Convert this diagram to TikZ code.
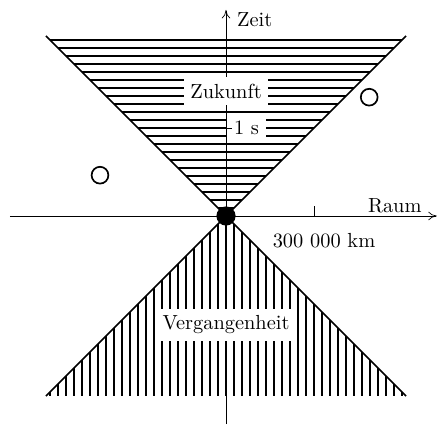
\documentclass[tikz,border=0pt]{standalone}
\usepackage{tikz}
\usetikzlibrary{arrows.meta,positioning}

\begin{document}
\begin{tikzpicture}[
  hatch/.style={line width=1.5pt},
  cone/.style={line width=1.1pt},
  axis/.style={-{To[length=6pt,width=6pt]}, line width=0.5pt},
  tick/.style={line width=0.7pt},
  txt/.style={scale=1.45, transform shape},
  lbl/.style={txt, fill=white},
  obj/.style={circle, draw, line width=1.2pt, minimum size=0.42cm, inner sep=0pt}
]
\useasboundingbox (-5.65,-5.225) rectangle (5.3,5.4);

\coordinate (o) at (0,0);
\coordinate (ul) at (-4.5,4.5);
\coordinate (ur) at (4.5,4.5);
\coordinate (ll) at (-4.5,-4.5);
\coordinate (lr) at (4.5,-4.5);
\coordinate (tmin) at (0,-5.2);
\coordinate (tmax) at (0,5.15);
\coordinate (xmin) at (-5.4,0);
\coordinate (xmax) at (5.27,0);
\coordinate (t1) at (0,2.2);
\coordinate (x1) at (2.2,0);

% future: horizontal lines
\foreach \k in {1,...,22}
  \draw[hatch] (-0.2*\k,0.2*\k) -- (0.2*\k,0.2*\k);
% past: vertical lines
\foreach \k in {-22,...,22}
  \draw[hatch] (0.2*\k,{-abs(0.2*\k)}) -- (0.2*\k,-4.5);

\node[lbl, anchor=west] (sec) at (0.02,2.2) {1 s};

\draw[axis] (tmin) -- (tmax);
\draw[axis] (xmin) -- (xmax);
\draw[tick] ([xshift=-0.15cm]t1) -- ([xshift=0.15cm]t1);
\draw[tick] (x1) -- ([yshift=0.25cm]x1);

\node[lbl] (future) at (0,3.12) {Zukunft};
\node[lbl] (past) at (0,-2.72) {Vergangenheit};
\node[txt, anchor=west] (zeit) at (0.1,4.9) {Zeit};
\node[txt, anchor=base] (raum) at (4.22,0.1) {Raum};
\node[txt, anchor=base] (km) at (2.45,-0.78) {300 000 km};

\draw[cone] (ul) -- (o) -- (lr);
\draw[cone] (ur) -- (o) -- (ll);

\node[circle, fill, minimum size=0.48cm, inner sep=0pt] (here) at (o) {};
\node[obj] (evA) at (3.58,2.97) {};
\node[obj] (evB) at (-3.15,1.02) {};

\end{tikzpicture}
\end{document}
